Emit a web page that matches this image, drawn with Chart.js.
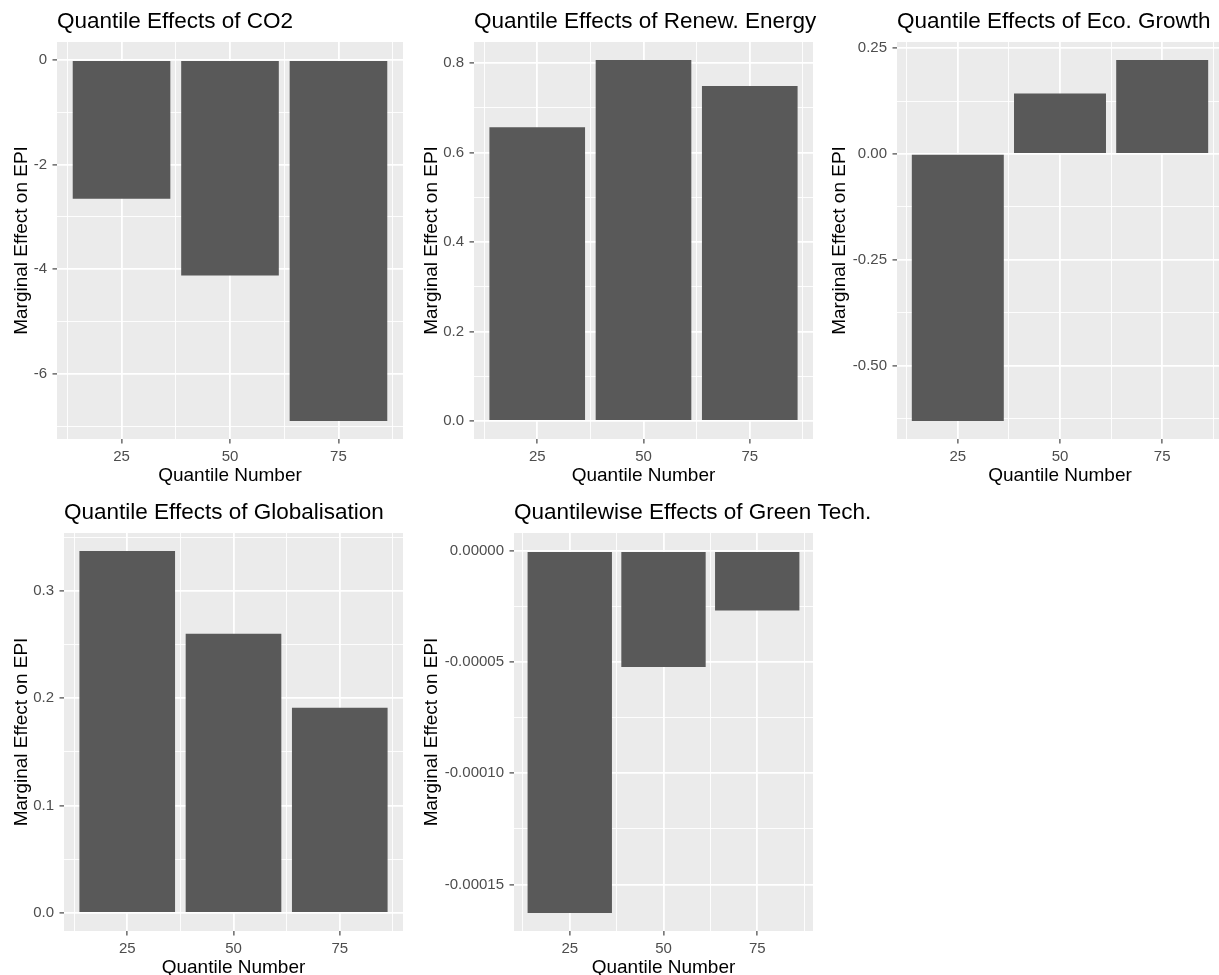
<!DOCTYPE html>
<html lang="en">
<head>
    <meta charset="UTF-8">
    <title>Quantile Effects on EPI</title>
    <script src="https://cdn.jsdelivr.net/npm/chart.js"></script>
    <style>
        html, body { margin: 0; padding: 0; background: #fff; overflow: hidden; width: 1219px; height: 975px; }
        .panel { position: absolute; }
        #p1 { left: 0px;   top: 0px;   width: 403px; height: 489px; }
        #p2 { left: 410px; top: 0px;   width: 433px; height: 489px; }
        #p3 { left: 818px; top: 0px;   width: 405px; height: 489px; }
        #p4 { left: 0px;   top: 491px; width: 403px; height: 490px; }
        #p5 { left: 410px; top: 491px; width: 483px; height: 490px; }
    </style>
</head>
<body>

<div class="panel" id="p1"><canvas id="c1"></canvas></div>
<div class="panel" id="p2"><canvas id="c2"></canvas></div>
<div class="panel" id="p3"><canvas id="c3"></canvas></div>
<div class="panel" id="p4"><canvas id="c4"></canvas></div>
<div class="panel" id="p5"><canvas id="c5"></canvas></div>

<script>
// data
const quantiles = [25, 50, 75];
const quantileLabels = ["25", "50", "75"];

const co2Effects = [-2.65, -4.12, -6.90];
const renewEffects = [0.657, 0.807, 0.749];
const growthEffects = [-0.631, 0.143, 0.222];
const globalEffects = [0.337, 0.260, 0.191];
const greenTechEffects = [-0.0001628, -0.0000521, -0.0000267];

const co2Ticks = [-6, -4, -2, 0];
const co2TickLabels = ["-6", "-4", "-2", "0"];
const renewTicks = [0, 0.2, 0.4, 0.6, 0.8];
const renewTickLabels = ["0.0", "0.2", "0.4", "0.6", "0.8"];
const growthTicks = [-0.5, -0.25, 0, 0.25];
const growthTickLabels = ["-0.50", "-0.25", "0.00", "0.25"];
const globalTicks = [0, 0.1, 0.2, 0.3];
const globalTickLabels = ["0.0", "0.1", "0.2", "0.3"];
const greenTicks = [-0.00015, -0.0001, -0.00005, 0];
const greenTickLabels = ["-0.00015", "-0.00010", "-0.00005", "0.00000"];

const FONT = "'Liberation Sans', Arial, sans-serif";

// grey panel behind the grid, like ggplot's theme_grey
const panelBg = {
    id: 'panelBg',
    beforeDraw(chart) {
        const a = chart.chartArea, ctx = chart.ctx;
        ctx.save();
        ctx.fillStyle = '#EBEBEB';
        ctx.fillRect(a.left, a.top, a.right - a.left, a.bottom - a.top);
        ctx.restore();
    }
};

// plot title left-aligned on the panel, allowed to run past it (no squeezing)
const panelTitle = {
    id: 'panelTitle',
    afterDraw(chart, args, opts) {
        const ctx = chart.ctx;
        ctx.save();
        ctx.fillStyle = '#000000';
        ctx.font = '22.5px ' + FONT;
        ctx.textAlign = 'left';
        ctx.textBaseline = 'middle';
        ctx.fillText(opts.text, chart.chartArea.left, chart.chartArea.top - 20);
        ctx.restore();
    }
};

// majors plus the midpoints between them (minor grid)
function withMinors(majors, lo, hi) {
    const step = majors[1] - majors[0];
    const out = majors.slice();
    for (let i = -1; i < majors.length; i++) {
        const m = majors[0] + (i + 0.5) * step;
        if (m >= lo && m <= hi) out.push(m);
    }
    return out.sort((a, b) => a - b);
}

function findMajor(v, majors) {
    const tol = Math.abs(majors[1] - majors[0]) * 1e-6;
    for (let i = 0; i < majors.length; i++) {
        if (Math.abs(v - majors[i]) < tol) return i;
    }
    return -1;
}

function makePanel(id, title, values, yTicks, yLabels, yAxisWidth, padRight) {
    let lo = Math.min(0, ...values), hi = Math.max(0, ...values);
    const pad = (hi - lo) * 0.05;
    lo -= pad; hi += pad;

    const xLo = quantiles[0] - 11.25, xHi = quantiles[quantiles.length - 1] + 11.25;
    const xPad = (xHi - xLo) * 0.05;

    const gridWidth = majors => c => findMajor(c.tick.value, majors) >= 0 ? 1.8 : 0.9;
    const tickCol = majors => c => findMajor(c.tick.value, majors) >= 0 ? '#333333' : 'rgba(0,0,0,0)';

    new Chart(document.getElementById(id), {
        type: 'bar',
        data: {
            datasets: [{
                data: quantiles.map((q, i) => ({ x: q, y: values[i] })),
                backgroundColor: '#595959',
                borderWidth: 0,
                barPercentage: 1.8,
                categoryPercentage: 1.0
            }]
        },
        plugins: [panelBg, panelTitle],
        options: {
            responsive: true,
            maintainAspectRatio: false,
            animation: false,
            layout: { padding: { top: 42, right: padRight, bottom: 0, left: 0 } },
            plugins: {
                legend: { display: false },
                tooltip: { enabled: false },
                title: { display: false },
                panelTitle: { text: title }
            },
            scales: {
                x: {
                    type: 'linear', offset: false,
                    min: xLo - xPad, max: xHi + xPad,
                    afterBuildTicks: s => { s.ticks = withMinors(quantiles, s.min, s.max).map(v => ({ value: v })); },
                    afterFit: s => { s.height = 50; },
                    border: { display: false },
                    grid: {
                        offset: false, drawTicks: true, tickLength: 4.5, tickWidth: 1.1,
                        color: '#FFFFFF', lineWidth: gridWidth(quantiles), tickColor: tickCol(quantiles)
                    },
                    ticks: {
                        autoSkip: false, maxRotation: 0, padding: 4, color: '#4D4D4D',
                        font: { family: FONT, size: 15 },
                        callback: v => { const k = findMajor(v, quantiles); return k >= 0 ? quantileLabels[k] : ''; }
                    },
                    title: {
                        display: true, text: 'Quantile Number', color: '#000000',
                        font: { family: FONT, size: 19 },
                        padding: { top: 0, bottom: 1.8 }
                    }
                },
                y: {
                    type: 'linear', min: lo, max: hi,
                    afterBuildTicks: s => { s.ticks = withMinors(yTicks, s.min, s.max).map(v => ({ value: v })); },
                    afterFit: s => { s.width = yAxisWidth; },
                    border: { display: false },
                    grid: {
                        drawTicks: true, tickLength: 4.5, tickWidth: 1.1,
                        color: '#FFFFFF', lineWidth: gridWidth(yTicks), tickColor: tickCol(yTicks)
                    },
                    ticks: {
                        autoSkip: false, padding: 5.5, color: '#4D4D4D',
                        font: { family: FONT, size: 15 },
                        callback: v => { const k = findMajor(v, yTicks); return k >= 0 ? yLabels[k] : ''; }
                    },
                    title: {
                        display: true, text: 'Marginal Effect on EPI', color: '#000000',
                        font: { family: FONT, size: 19 },
                        padding: { top: 10.5, bottom: 0 }
                    }
                }
            }
        }
    });
}

makePanel('c1', 'Quantile Effects of CO2', co2Effects, co2Ticks, co2TickLabels, 57, 0);
makePanel('c2', 'Quantile Effects of Renew. Energy', renewEffects, renewTicks, renewTickLabels, 64, 30);
makePanel('c3', 'Quantile Effects of Eco. Growth', growthEffects, growthTicks, growthTickLabels, 79, 0);
makePanel('c4', 'Quantile Effects of Globalisation', globalEffects, globalTicks, globalTickLabels, 64, 0);
makePanel('c5', 'Quantilewise Effects of Green Tech.', greenTechEffects, greenTicks, greenTickLabels, 104, 80);
</script>

</body>
</html>
